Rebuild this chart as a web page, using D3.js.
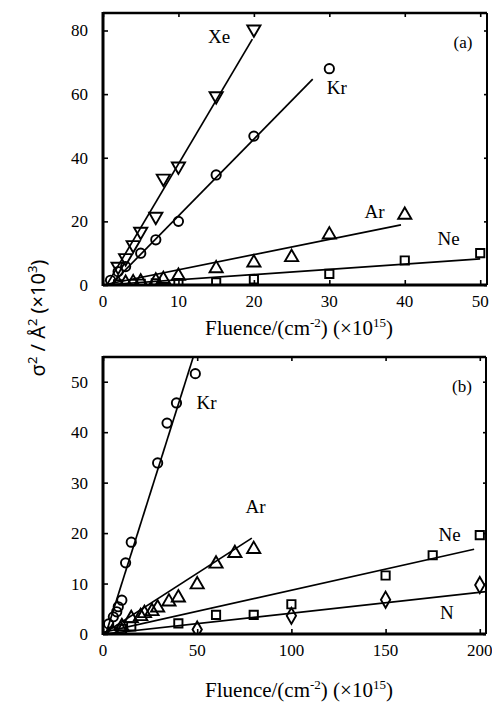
<!DOCTYPE html>
<html>
<head>
<meta charset="utf-8">
<script src="https://cdn.jsdelivr.net/npm/d3@7"></script>
<style>
body{margin:0;background:#fff;}
text{fill:#000;}
</style>
</head>
<body>
<svg id="chart" width="492" height="703"></svg>
<script>
'use strict';

/*
global d3
*/

// ---- panel (a) : fluence 0-50 x10^15 ----
const ticksA_x = [0, 10, 20, 30, 40, 50];
const ticksA_y = [0, 20, 40, 60, 80];

const xeA = [[2, 5.8], [3, 8.5], [4, 12.6], [5, 16.8], [7, 21.5], [8, 33.5], [10, 37.3], [15, 59.4], [20, 80.4]];
const krA = [[1, 1.5], [2, 4.2], [3, 5.8], [5, 10], [7, 14.2], [10, 20], [15, 34.6], [20, 46.8], [30, 68]];
const arA = [[2, 0.4], [3, 0.6], [4, 0.8], [5, 1], [7, 1.3], [8, 1.8], [10, 2.8], [15, 5.2], [20, 7], [25, 8.7], [30, 15.8], [40, 22]];
const neA = [[2, 0.2], [4, 0.3], [5, 0.4], [7, 0.5], [10, 0.6], [15, 0.8], [20, 1.8], [30, 3.5], [40, 7.7], [50, 10]];

const xeFitA = [[0.5, 0], [19.8, 77.3]];
const krFitA = [[1, 0], [27.8, 64.7]];
const arFitA = [[0, 0], [39.5, 18.9]];
const neFitA = [[0, 0], [50, 8.2]];

// ---- panel (b) : fluence 0-200 x10^15 ----
const ticksB_x = [0, 50, 100, 150, 200];
const ticksB_y = [0, 10, 20, 30, 40, 50];

const krB = [[3, 2], [5.5, 3.4], [7.3, 4.4], [8.1, 5.4], [10, 6.7], [12, 14.1], [15, 18.2], [29, 33.9], [34, 41.8], [39, 45.8], [49, 51.6]];
const arB = [[10, 1.5], [15, 3.1], [20, 3.5], [22, 4.1], [26, 4.5], [29, 5.2], [35, 6.4], [40, 7.2], [50, 9.8], [60, 13.9], [70, 16], [80, 16.8]];
const neB = [[5, 0.5], [10, 1], [15, 1.5], [40, 2.1], [60, 3.8], [80, 3.8], [100, 5.9], [150, 11.6], [175, 15.6], [200, 19.6]];
const nB = [[5, 0.3], [10, 0.5], [50, 0.9], [100, 3.6], [150, 6.8], [200, 9.7]];

const krFitB = [[1.5, 0], [48, 55]];
const arFitB = [[0, 0], [79, 19]];
const neFitB = [[0, 0.3], [197, 16.8]];
const nFitB = [[0, 0], [203.5, 8.4]];

const serif = 'Liberation Serif, Times New Roman, serif';

let svg = d3.select('#chart');

function drawPanel(p){
	let x = d3.scaleLinear().domain(p.xDomain).range([p.left, p.right]);
	let y = d3.scaleLinear().domain(p.yDomain).range([p.bottom, p.top]);

	let g = svg.append('g');

	let clipId = 'clip' + p.name;
	g.append('clipPath').attr('id', clipId)
		.append('rect')
			.attr('x', p.left).attr('y', p.top)
			.attr('width', p.right - p.left).attr('height', p.bottom - p.top);

	// inward ticks on all four sides
	g.append('g')
		.attr('transform', 'translate(' + p.left + ',0)')
		.call(d3.axisRight(y).tickValues(p.yTicks).tickSize(5).tickFormat(''))
		.call(a => a.select('.domain').remove());
	g.append('g')
		.attr('transform', 'translate(' + p.right + ',0)')
		.call(d3.axisLeft(y).tickValues(p.yTicks).tickSize(3).tickFormat(''))
		.call(a => a.select('.domain').remove());
	g.append('g')
		.attr('transform', 'translate(0,' + p.bottom + ')')
		.call(d3.axisTop(x).tickValues(p.xTicks).tickSize(5).tickFormat(''))
		.call(a => a.select('.domain').remove());
	g.append('g')
		.attr('transform', 'translate(0,' + p.top + ')')
		.call(d3.axisBottom(x).tickValues(p.xTicks).tickSize(4).tickFormat(''))
		.call(a => a.select('.domain').remove());
	g.selectAll('.tick line').attr('stroke', '#000').attr('stroke-width', 1.6);

	// tick labels
	g.append('g').selectAll('text')
		.data(p.yTicks)
		.enter().append('text')
			.attr('x', p.left - 15)
			.attr('y', d => y(d) + 6)
			.attr('text-anchor', 'end')
			.attr('font-family', serif)
			.attr('font-size', 17)
			.text(d => d);
	g.append('g').selectAll('text')
		.data(p.xTicks)
		.enter().append('text')
			.attr('x', d => x(d))
			.attr('y', p.bottom + 22)
			.attr('text-anchor', 'middle')
			.attr('font-family', serif)
			.attr('font-size', 17)
			.text(d => d);

	// frame: left, bottom and top heavy, right lighter
	g.append('line').attr('x1', p.left).attr('x2', p.left).attr('y1', p.top - 1).attr('y2', p.bottom + 1)
		.attr('stroke', '#000').attr('stroke-width', 3);
	g.append('line').attr('x1', p.left).attr('x2', p.right).attr('y1', p.bottom).attr('y2', p.bottom)
		.attr('stroke', '#000').attr('stroke-width', 3);
	g.append('line').attr('x1', p.left).attr('x2', p.right).attr('y1', p.top).attr('y2', p.top)
		.attr('stroke', '#000').attr('stroke-width', 2.6);
	g.append('line').attr('x1', p.right).attr('x2', p.right).attr('y1', p.top).attr('y2', p.bottom)
		.attr('stroke', '#000').attr('stroke-width', 2);

	let line = d3.line().x(d => x(d[0])).y(d => y(d[1]));
	let plot = g.append('g').attr('clip-path', 'url(#' + clipId + ')');

	p.series.forEach(s => {
		plot.append('path')
			.datum(s.fit)
			.attr('d', line)
			.attr('fill', 'none')
			.attr('stroke', '#000')
			.attr('stroke-width', 1.7);
		plot.append('g').selectAll('path')
			.data(s.points)
			.enter().append('path')
				.attr('transform', d => 'translate(' + x(d[0]) + ',' + y(d[1]) + ')' + (s.flip ? ' rotate(180)' : ''))
				.attr('d', d3.symbol().type(s.symbol).size(s.size))
				.attr('fill', 'none')
				.attr('stroke', '#000')
				.attr('stroke-width', 1.9);
		g.append('text')
			.attr('x', x(s.label[0]))
			.attr('y', y(s.label[1]))
			.attr('text-anchor', 'middle')
			.attr('font-family', serif)
			.attr('font-size', 19)
			.text(s.name);
	});

	g.append('text')
		.attr('x', p.right - 24)
		.attr('y', p.top + 35)
		.attr('text-anchor', 'middle')
		.attr('font-family', serif)
		.attr('font-size', 17)
		.text(p.tag);

	// x axis title
	let t = g.append('text')
		.attr('x', 299)
		.attr('y', p.titleY)
		.attr('text-anchor', 'middle')
		.attr('font-family', serif)
		.attr('font-size', 21);
	t.append('tspan').text('Fluence/(cm');
	t.append('tspan').attr('dy', -8).attr('font-size', 13).text('-2');
	t.append('tspan').attr('dy', 8).text(') (\u00d710');
	t.append('tspan').attr('dy', -8).attr('font-size', 13).text('15');
	t.append('tspan').attr('dy', 8).text(')');
}

drawPanel({
	name: 'a', tag: '(a)',
	left: 103, right: 487, top: 13, bottom: 285,
	xDomain: [0, 50.9], yDomain: [0, 85.5],
	xTicks: ticksA_x, yTicks: ticksA_y,
	titleY: 335,
	series: [
		{name: 'Xe', points: xeA, fit: xeFitA, symbol: d3.symbolTriangle, flip: true, size: 75, label: [15.4, 76]},
		{name: 'Kr', points: krA, fit: krFitA, symbol: d3.symbolCircle, size: 68, label: [31, 60]},
		{name: 'Ar', points: arA, fit: arFitA, symbol: d3.symbolTriangle, size: 75, label: [36, 21]},
		{name: 'Ne', points: neA, fit: neFitA, symbol: d3.symbolSquare, size: 68, label: [45.8, 12.5]},
	],
});

drawPanel({
	name: 'b', tag: '(b)',
	left: 103, right: 486, top: 357, bottom: 634,
	xDomain: [0, 203.3], yDomain: [0, 54.9],
	xTicks: ticksB_x, yTicks: ticksB_y,
	titleY: 697,
	series: [
		{name: 'Kr', points: krB, fit: krFitB, symbol: d3.symbolCircle, size: 68, label: [55, 44.5]},
		{name: 'Ar', points: arB, fit: arFitB, symbol: d3.symbolTriangle, size: 75, label: [81, 24]},
		{name: 'Ne', points: neB, fit: neFitB, symbol: d3.symbolSquare, size: 68, label: [184, 18.5]},
		{name: 'N', points: nB, fit: nFitB, symbol: d3.symbolDiamond, size: 75, label: [182.5, 3]},
	],
});

// shared y axis title
let yt = svg.append('text')
	.attr('transform', 'translate(45,318) rotate(-90)')
	.attr('text-anchor', 'middle')
	.attr('font-family', 'Noto Sans, DejaVu Sans, sans-serif')
	.attr('font-size', 20);
yt.append('tspan').text('\u03c3');
yt.append('tspan').attr('dy', -8).attr('font-size', 13).text('2');
yt.append('tspan').attr('dy', 8).text(' / \u00c5');
yt.append('tspan').attr('dy', -8).attr('font-size', 13).text('2');
yt.append('tspan').attr('dy', 8).text(' (\u00d710');
yt.append('tspan').attr('dy', -8).attr('font-size', 13).text('3');
yt.append('tspan').attr('dy', 8).text(')');
</script>
</body>
</html>
